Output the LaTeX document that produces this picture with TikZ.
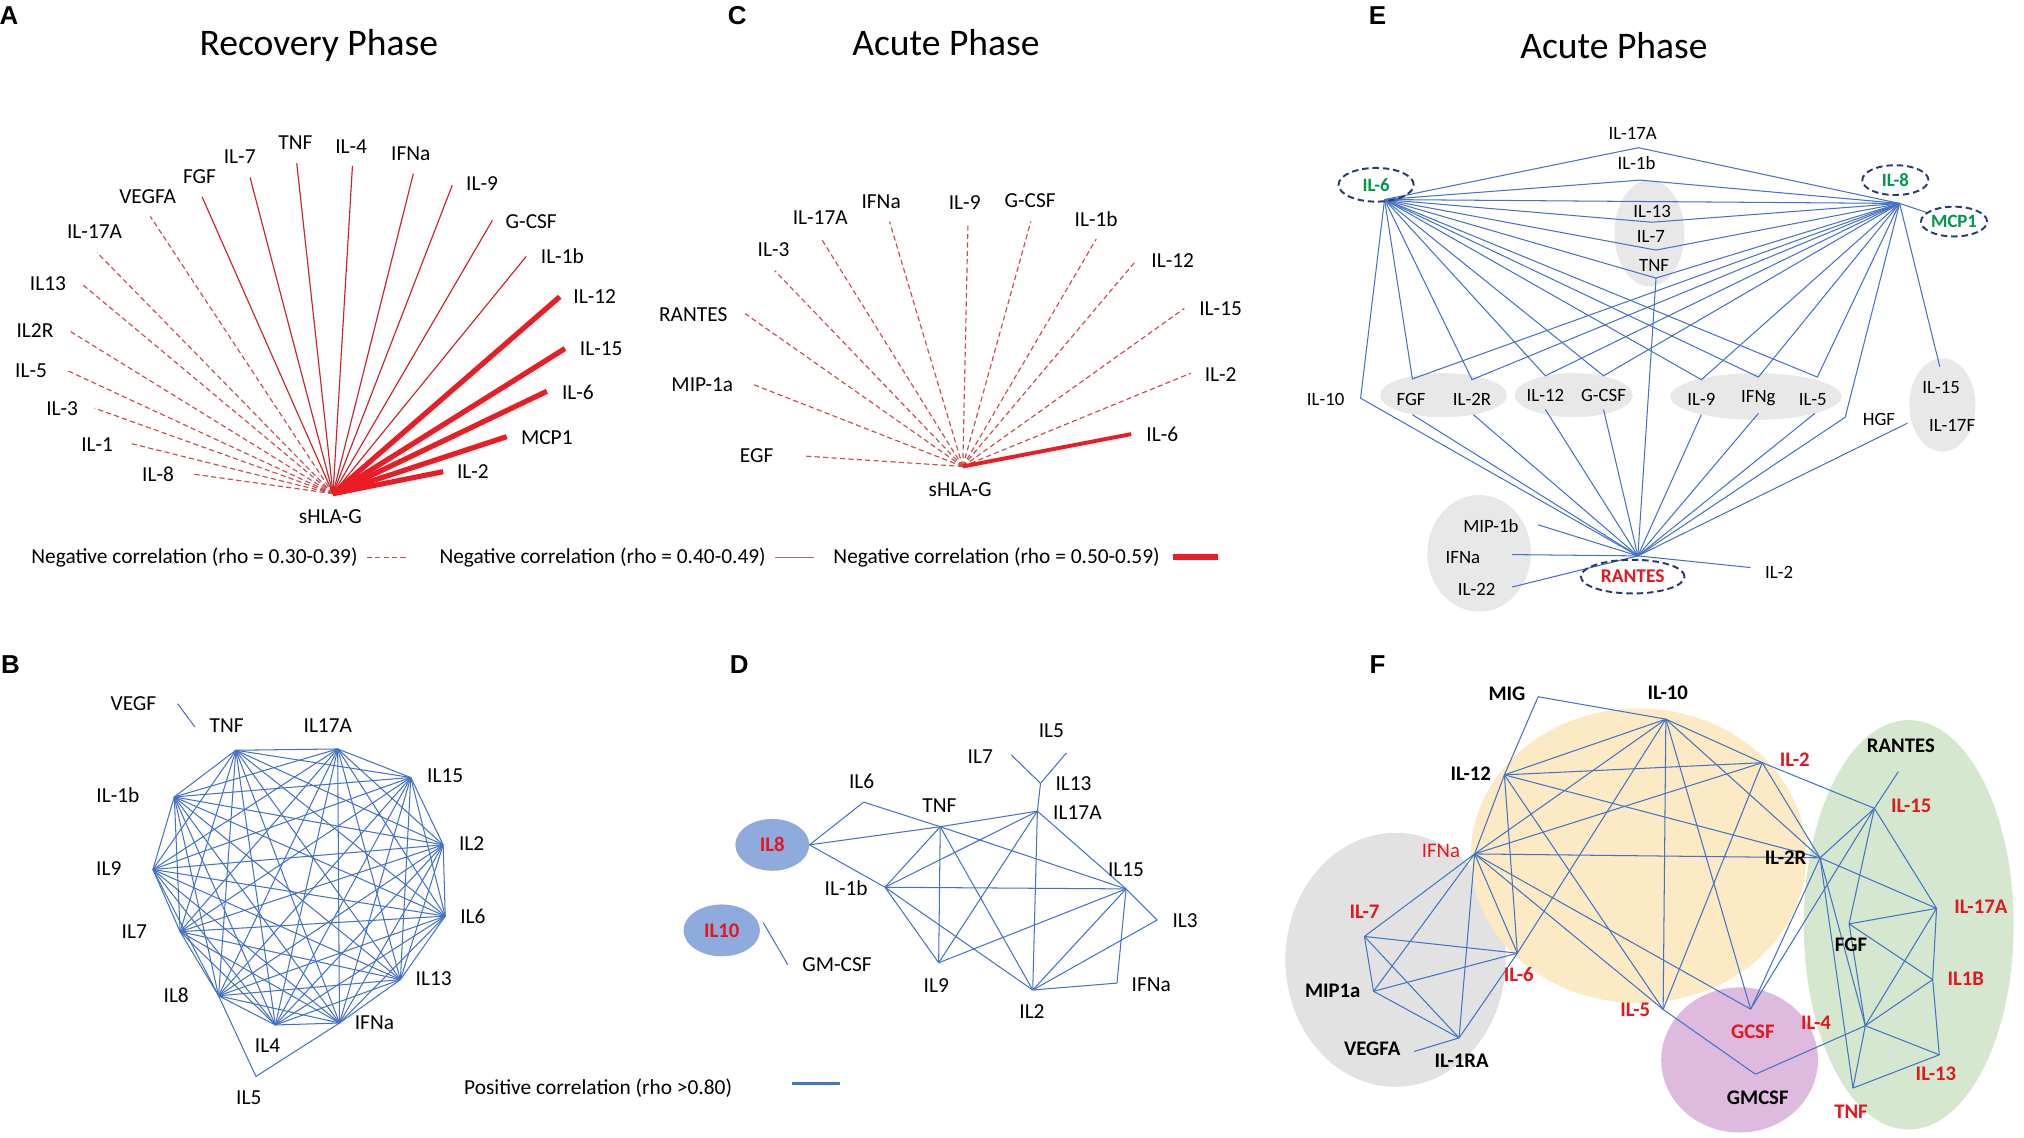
\documentclass[tikz,border=0pt]{standalone}
\usepackage{fontspec}
\setmainfont{Carlito}
\newfontfamily\letterfont{Liberation Sans}
\usetikzlibrary{shapes.geometric}
\usetikzlibrary{calc}
\usepackage{xcolor}

\definecolor{netBlue}{RGB}{68,114,196}
\definecolor{redDash}{RGB}{200,78,76}
\definecolor{redThin}{RGB}{204,36,44}
\definecolor{redThick}{RGB}{236,28,36}
\definecolor{legMauve}{RGB}{168,104,104}
\definecolor{greyFill}{RGB}{232,232,232}
\definecolor{navyDash}{RGB}{38,60,112}
\definecolor{eGreen}{RGB}{0,150,78}
\definecolor{txtRed}{RGB}{226,24,30}
\definecolor{dBlue}{RGB}{143,170,220}
\definecolor{fGrey}{RGB}{226,226,226}
\definecolor{fYellow}{RGB}{252,234,196}
\definecolor{fPink}{RGB}{222,186,222}
\definecolor{fGreen}{RGB}{214,231,208}

\begin{document}
\begin{tikzpicture}[x=1pt, y=-1pt]
        % ================= 样式定义 =================
        \tikzset{
            % 普通标签
            lab/.style={font=\fontsize{16.5}{18}\selectfont, inner sep=1pt},
            elab/.style={font=\fontsize{14.5}{16}\selectfont, inner sep=1pt},
            flab/.style={font=\bfseries\fontsize{16}{18}\selectfont, inner sep=1pt},
            ttl/.style={font=\fontsize{29}{32}\selectfont, inner sep=0pt, anchor=base},
            plet/.style={font=\letterfont\bfseries\fontsize{20}{22}\selectfont, inner sep=0pt},
            % 边
            rdash/.style={draw=redDash, line width=0.9pt, dash pattern=on 4pt off 2.5pt},
            rthin/.style={draw=redThin, line width=0.9pt},
            rthick/.style={draw=redThick, line width=4pt},
            net/.style={draw=netBlue, line width=0.8pt},
            % 椭圆节点
            shell/.style={ellipse, draw=navyDash, line width=1.5pt, dash pattern=on 5pt off 3pt, inner sep=0pt},
            blob/.style={ellipse, fill=dBlue, inner sep=0pt, text=txtRed, font=\bfseries\fontsize{16}{18}\selectfont}
        }
        \useasboundingbox (0,0) rectangle (1562,878);

        % ================= 标题与字母 =================
        \node[plet] (pA) at (7,12) {A};
        \node[plet] (pC) at (569,12) {C};
        \node[plet] (pE) at (1063,12) {E};
        \node[plet] (pB) at (8,513) {B};
        \node[plet] (pD) at (570.5,513) {D};
        \node[plet] (pF) at (1063,513) {F};
        \node[ttl] (tA) at (246,42.6) {Recovery Phase};
        \node[ttl] (tC) at (730,42.5) {Acute Phase};
        \node[ttl] (tE) at (1245.5,45.5) {Acute Phase};

        % ================= 1. A: Recovery Phase =================
        \coordinate (aH) at (257,381);  % sHLA-G 中心
        \node[lab] (aS) at (255,399) {sHLA-G};
        \foreach \n/\lx/\ly/\ex/\ey/\t in {1/122/366/150/366/IL-8, 2/75/343/100/342/IL-1,
            3/48/315/73/315/IL-3, 4/24/286/52/286/IL-5, 5/27/255/53/255/IL2R,
            6/37/219/63/219/IL13, 7/73/179/75/195/IL-17A, 8/114/152/116/167/VEGFA}{
            \coordinate (a\n) at (\ex,\ey);
            \node[lab] (la\n) at (\lx,\ly) {\t};
            \draw[rdash] (aH) -- (a\n);
        }
        \foreach \n/\lx/\ly/\ex/\ey/\t in {9/154/136/156/152/FGF, 10/185/121/193/137/IL-7,
            11/228/110/229/126/TNF, 12/271/113/272/128/IL-4, 13/317/119/319/134/IFNa,
            14/372/142/349/143/IL-9, 15/410/171/380/170/G-CSF, 16/434/198/406/198/IL-1b}{
            \coordinate (a\n) at (\ex,\ey);
            \node[lab] (la\n) at (\lx,\ly) {\t};
            \draw[rthin] (aH) -- (a\n);
        }
        \foreach \n/\lx/\ly/\ex/\ey/\t in {17/459/229/432/229/IL-12, 18/464/269/436/269/IL-15,
            19/446/303/422/302/IL-6, 20/422/338/391/337/MCP1, 21/365/364/342/364/IL-2}{
            \coordinate (a\n) at (\ex,\ey);
            \node[lab] (la\n) at (\lx,\ly) {\t};
            \draw[rthick] (aH) -- (a\n);
        }

        % 图例
        \node[lab, anchor=west] (leg1) at (23,430) {Negative correlation (rho = 0.30-0.39)};
        \node[lab, anchor=west] (leg2) at (338,430) {Negative correlation (rho = 0.40-0.49)};
        \node[lab, anchor=west] (leg3) at (642,430) {Negative correlation (rho = 0.50-0.59)};
        \coordinate (g1a) at (283,430); \coordinate (g1b) at (315,430);
        \coordinate (g2a) at (598,430); \coordinate (g2b) at (628,430);
        \coordinate (g3a) at (905,430); \coordinate (g3b) at (940,430);
        \draw[rdash] (g1a) -- (g1b);
        \draw[draw=legMauve, line width=1pt] (g2a) -- (g2b);
        \draw[rthick, line width=4.5pt] (g3a) -- (g3b);

        % ================= 2. C: Acute Phase =================
        \coordinate (cH) at (743,360);
        \node[lab] (cS) at (741,378) {sHLA-G};
        \foreach \n/\lx/\ly/\ex/\ey/\t in {1/584/352/621.5/352/EGF, 2/542/297/582/297/MIP-1a,
            3/535/243/575/242/RANTES, 4/597/193/598/209/IL-3, 5/633/168/634/184.5/IL-17A,
            6/680/156/686.5/171/IFNa, 7/744.5/156.5/747/173/IL-9, 8/795/155/795.5/171/G-CSF,
            9/846/169/846/184.5/IL-1b, 10/905/201/876/202/IL-12, 11/942/238.5/914/238/IL-15,
            12/942/289/919/288/IL-2}{
            \coordinate (c\n) at (\ex,\ey);
            \node[lab] (lc\n) at (\lx,\ly) {\t};
            \draw[rdash] (cH) -- (c\n);
        }
        \coordinate (c13) at (873,335);
        \node[lab] (lc13) at (897,335) {IL-6};
        \draw[rthick, line width=3pt] (cH) -- (c13);

        % ================= 3. E: Acute Phase 网络 =================
        % 灰色分组
        \fill[greyFill] (1273,180) ellipse [x radius=27pt, y radius=41pt];
        \fill[greyFill] (1114,305) ellipse [x radius=49pt, y radius=17pt];
        \fill[greyFill] (1214.5,305) ellipse [x radius=45.6pt, y radius=17pt];
        \fill[greyFill] (1355,306) ellipse [x radius=66pt, y radius=18pt];
        \fill[greyFill] (1499,312.5) ellipse [x radius=25.5pt, y radius=36pt];
        \fill[greyFill] (1141.5,427) ellipse [x radius=40pt, y radius=45pt];

        \coordinate (h6) at (1068.5,154);  % IL-6
        \coordinate (h8) at (1466,157);    % IL-8
        \coordinate (hr) at (1264,429);    % RANTES
        \foreach \n/\px/\py in {A17/1264.5/114, A1b/1265.6/139, A13/1275/171.5, A7/1278/193,
            ATNF/1278/214.6, 10/1050/307.3, HGF/1424/322, 15/1497/283, 17F/1472/326.6,
            MIP/1187/405, IFa/1167/428, 22/1167/453, 2/1351/438}
            \coordinate (e\n) at (\px,\py);
        \foreach \n/\tx/\ty/\bx/\by in {FGF/1090/292.4/1090/320, 2R/1136/293/1137/320,
            12/1192.6/290/1192.6/316, GC/1237.5/290/1237.5/316, 9/1313/293/1313/320,
            IFg/1357/291/1357/319, 5/1402.5/291/1400.6/319}{
            \coordinate (e\n-t) at (\tx,\ty);
            \coordinate (e\n-b) at (\bx,\by);
        }

        \draw[net] (h6) -- (h8);
        \foreach \t in {A17,A1b,A13,A7,ATNF}
            \draw[net] (h6) -- (e\t) -- (h8);
        \draw[net] (eATNF) -- (hr);
        \foreach \g in {FGF,2R,12,GC,9,IFg,5}{
            \draw[net] (h6) -- (e\g-t) -- (h8);
            \draw[net] (e\g-b) -- (hr);
        }
        \draw[net] (h6) -- (e10) -- (hr);
        \draw[net] (h8) -- (eHGF) -- (hr);
        \draw[net] (h8) -- (e15);
        \foreach \t in {17F,MIP,IFa,22,2}
            \draw[net] (e\t) -- (hr);

        % E 标签
        \foreach \n/\px/\py/\t in {17A/1260/103/IL-17A, 1b/1263/126/IL-1b, 13/1275/163/IL-13,
            7/1274/182.5/IL-7, TNF/1276.5/205/TNF, 10/1023/308.6/IL-10, FGF/1089/308.6/FGF,
            2R/1136/308.6/IL-2R, 12/1192.6/305.5/IL-12, GC/1237.5/305.5/G-CSF, 9/1313/308/IL-9,
            IFg/1357/307/IFNg, 5/1399/308/IL-5, HGF/1450/323.5/HGF, 15/1498/299/IL-15,
            17F/1506.5/328.6/IL-17F, MIP/1150.6/406/MIP-1b, IFa/1129/430/IFNa,
            22/1139.6/455/IL-22, 2/1373/442/IL-2}
            \node[elab] (le\n) at (\px,\py) {\t};
        \node[shell, minimum width=58pt, minimum height=26pt, text=eGreen, font=\bfseries\fontsize{14.5}{16}\selectfont] (eS6) at (1062,142.6) {IL-6};
        \node[shell, minimum width=51pt, minimum height=23pt, text=eGreen, font=\bfseries\fontsize{14.5}{16}\selectfont] (eS8) at (1462.7,139) {IL-8};
        \node[shell, minimum width=51pt, minimum height=23pt, text=eGreen, font=\bfseries\fontsize{14.5}{16}\selectfont] (eSM) at (1508,171) {MCP1};
        \node[shell, minimum width=80pt, minimum height=26pt, text=txtRed, font=\bfseries\fontsize{15}{16}\selectfont] (eSR) at (1260,445) {RANTES};
        \draw[net] (h8) -- (eSM);

        % ================= 4. B: Recovery 网络 =================
        \foreach \n/\px/\py in {1/182/579, 2/260.6/578, 3/317/600, 4/342/652, 5/343.6/707,
            6/309/756, 7/262/789.5, 8/212.5/791, 9/168.7/768.5, 10/139/719, 11/118/671,
            12/134.5/615}
            \coordinate (b\n) at (\px,\py);
        \foreach \i [evaluate=\i as \k using int(\i+1)] in {1,...,11}
            \foreach \j in {\k,...,12}
                \draw[net] (b\i) -- (b\j);
        \coordinate (b13) at (197.5,830.7);  % IL5
        \draw[net] (b9) -- (b13) -- (b7);
        \coordinate (bVa) at (137,543);
        \coordinate (bVb) at (150.4,561);
        \draw[net] (bVa) -- (bVb);
        \foreach \n/\px/\py/\t in {1/175/560/TNF, 2/253/560/IL17A, 3/343.6/599/IL15,
            4/364/651/IL2, 5/365/707/IL6, 6/334.7/755/IL13, 7/289/789.5/IFNa, 8/206.5/807/IL4,
            9/136/768/IL8, 10/103.6/719/IL7, 11/84/670/IL9, 12/91/614/IL-1b, 13/192/847/IL5,
            V/103/543/VEGF}
            \node[lab] (lb\n) at (\px,\py) {\t};

        % 图例
        \node[lab, anchor=west] (legP) at (357,840) {Positive correlation (rho >0.80)};
        \coordinate (gPa) at (611,836); \coordinate (gPb) at (648.5,836);
        \draw[net, line width=2.5pt] (gPa) -- (gPb);

        % ================= 5. D: Acute 网络 =================
        \node[blob, minimum width=57pt, minimum height=40pt] (dIL8) at (596,652) {IL8};
        \node[blob, minimum width=59pt, minimum height=40pt] (dIL10) at (557,718) {IL10};
        \coordinate (dGa) at (589,712);
        \coordinate (dGb) at (608,744.6);
        \draw[net] (dGa) -- (dGb);
        \coordinate (d8) at (dIL8.east);
        \foreach \n/\px/\py in {6/666.5/619, T/725.6/638, 17/800.6/626, 13/803/604.5,
            7/780.5/582.7, 5/823/581, 15/869/686, 3/893/710, IF/862/758.7, 2/797/764,
            9/724.4/743, 1b/683/684.7}
            \coordinate (d\n) at (\px,\py);
        \foreach \a/\b in {8/6, 6/T, T/15, 8/T, 8/1b, T/17, 17/13, 13/7, 13/5, 17/15, 15/3,
            3/2, 1b/15, 1b/T, 1b/17, 1b/9, 1b/2, T/9, T/2, 17/9, 17/2, 9/15, 15/2, 15/IF, 2/IF}
            \draw[net] (d\a) -- (d\b);
        \foreach \n/\px/\py/\t in {6/665/603/IL6, T/725/622/TNF, 17/831.5/627/IL17A,
            13/828.5/604.5/IL13, 7/756.5/584/IL7, 5/811.4/564/IL5, 15/869/671/IL15,
            3/914.6/710.7/IL3, IF/888.5/760/IFNa, 2/796.4/780.6/IL2, 9/722.6/760.5/IL9,
            1b/653/685.5/IL-1b, G/646/744.6/GM-CSF}
            \node[lab] (ld\n) at (\px,\py) {\t};

        % ================= 6. F: 分组网络 =================
        \fill[fGrey] (1077,740.7) ellipse [x radius=85pt, y radius=98pt];
        \fill[fYellow] (1264.5,660.4) ellipse [x radius=129.5pt, y radius=113.7pt];
        \fill[fGreen] (1473,713.7) ellipse [x radius=81pt, y radius=158pt];
        \fill[fPink] (1342.5,818) ellipse [x radius=60.5pt, y radius=56pt];

        \foreach \n/\px/\py in {MIG/1187/537.7, 10/1285.6/555, 12/1161/598, IFN/1138/659,
            7/1053/722.7, MIP/1060/765, VE/1091.5/811.4, RA/1126/801, 6/1171/735.6,
            5/1283.5/779, 2/1360/588.6, RAN/1465/595.5, 15/1446.5/623.8, 2R/1404.6/662,
            17/1494.5/701, FGF/1427/713, 1B/1491.5/756, 4/1439.5/791.6, GC/1351/778.8,
            GM/1354.7/829, 13/1496.6/814, TNF/1430/839.7}
            \coordinate (f\n) at (\px,\py);
        \foreach \a/\b in {MIG/10, MIG/12, 12/IFN, 12/10, 12/2, 12/2R, 12/6, 12/5,
            IFN/10, IFN/2, IFN/2R, IFN/7, IFN/MIP, IFN/RA, IFN/6, IFN/5, IFN/GC,
            7/MIP, 7/6, 7/RA, MIP/RA, MIP/6, RA/6, RA/VE, 6/10,
            10/5, 10/2, 10/2R, 10/GC, 2/15, 2/2R, 2/5,
            2R/15, 2R/17, 2R/4, 2R/TNF, 2R/GC, 15/RAN, 15/17, 15/FGF, 15/GC,
            FGF/17, FGF/1B, FGF/4, 17/1B, 17/4, 1B/13, 1B/4, 4/13, 4/TNF, 4/GM,
            TNF/13, 5/GM}
            \draw[net] (f\a) -- (f\b);

        % F 标签:黑色
        \foreach \n/\px/\py/\t in {MIG/1163/535.6/MIG, 10/1287/535/IL-10, 12/1135/597/IL-12,
            MIP/1028.5/764.6/MIP1a, VE/1059/809.6/VEGFA, RA/1128/819/IL-1RA,
            RAN/1467/575.7/RANTES, 2R/1378/662/IL-2R, FGF/1428.5/729/FGF, GM/1356.5/847/GMCSF}
            \node[flab] (lf\n) at (\px,\py) {\t};
        % F 标签:红色
        \foreach \n/\px/\py/\t in {7/1053/703.5/IL-7, 6/1172/751.8/IL-6, 5/1262/779/IL-5,
            2/1385/586.5/IL-2, 15/1475/622/IL-15, 17/1528.7/699.6/IL-17A, 1B/1517/755/IL1B,
            4/1401.5/789.5/IL-4, GC/1352.7/796/GCSF, 13/1494/829/IL-13, TNF/1428.5/857.7/TNF}
            \node[flab, text=txtRed] (lf\n) at (\px,\py) {\t};
        \node[flab, font=\fontsize{16}{18}\selectfont, text=txtRed] (lfIFN) at (1112,657) {IFNa};

\end{tikzpicture}
\end{document}
